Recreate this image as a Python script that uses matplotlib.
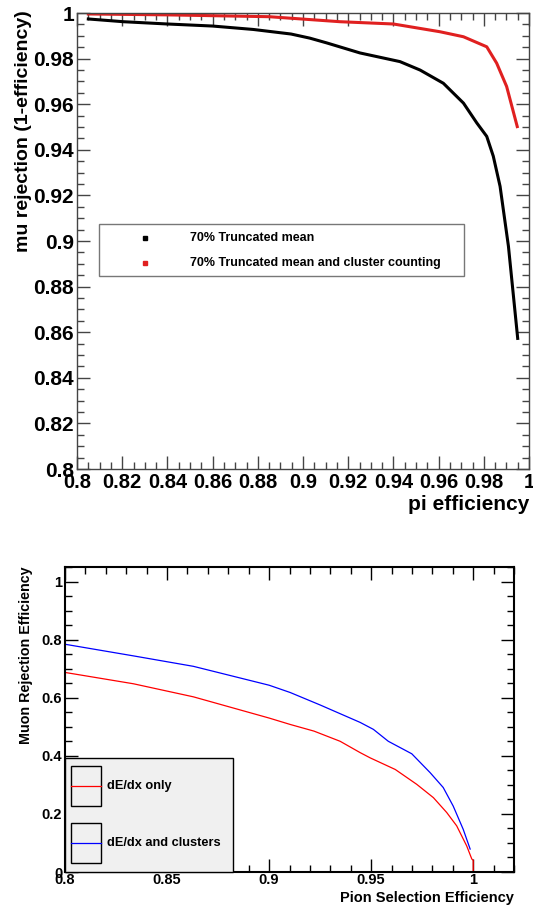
import numpy as np
import matplotlib
matplotlib.use('Agg')
import matplotlib.pyplot as plt
from matplotlib.patches import Rectangle
from matplotlib.ticker import MultipleLocator

plt.rcParams['font.family'] = ['Liberation Sans', 'DejaVu Sans']
plt.rcParams['font.weight'] = 'bold'

## top panel: mu rejection vs pi efficiency
pi_eff_tm = [0.805, 0.8205, 0.84, 0.86, 0.878, 0.8947, 0.903, 0.9105, 0.9252, 0.9429,
             0.9518, 0.9621, 0.971, 0.9769, 0.9813, 0.9842, 0.9872, 0.9909, 0.995]
mu_rej_tm = [0.9974, 0.9962, 0.9952, 0.9943, 0.9928, 0.9908, 0.9890, 0.9869, 0.9825, 0.9787,
             0.975, 0.9692, 0.9605, 0.9518, 0.9459, 0.9372, 0.924, 0.8977, 0.8573]
pi_eff_cc = [0.805, 0.84, 0.885, 0.9164, 0.94, 0.9606, 0.971, 0.9813, 0.9857,
             0.9901, 0.9948]
mu_rej_cc = [0.9996, 0.9992, 0.9984, 0.9962, 0.9952, 0.9918, 0.9896, 0.9852,
             0.978, 0.9678, 0.9502]
top_labels = ['70% Truncated mean', '70% Truncated mean and cluster counting']

## bottom panel: muon rejection vs pion selection efficiency
pion_blue = [0.80, 0.8335, 0.8629, 0.90, 0.9103, 0.925, 0.9348, 0.9446, 0.9511,
             0.9584, 0.9699, 0.9789, 0.9853, 0.9902, 0.9951, 0.9985]
muon_blue = [0.784, 0.744, 0.708, 0.643, 0.618, 0.575, 0.545, 0.515, 0.491,
             0.450, 0.407, 0.342, 0.291, 0.227, 0.147, 0.079]
pion_red = [0.80, 0.8335, 0.8629, 0.90, 0.9103, 0.922, 0.9348, 0.9446, 0.9495,
            0.9618, 0.9723, 0.9805, 0.987, 0.9919, 0.9968, 0.9993, 1.0, 1.0]
muon_red = [0.687, 0.648, 0.603, 0.530, 0.508, 0.485, 0.450, 0.411, 0.393,
            0.353, 0.302, 0.256, 0.205, 0.159, 0.090, 0.045, 0.04, 0.0]
bottom_labels = ['dE/dx only', 'dE/dx and clusters']

fig = plt.figure(figsize=(5.33, 9.06), dpi=100)

# ---------- top ----------
ax1 = fig.add_axes([0.1445, 0.4823, 0.848, 0.5033])
fc = '#444444'
ax1.plot(pi_eff_tm, mu_rej_tm, '-', color='black', lw=2.2)
ax1.plot(pi_eff_cc, mu_rej_cc, '-', color='#e02020', lw=2.2)
ax1.set_xlim(0.8, 1.0)
ax1.set_ylim(0.8, 1.0)
for s in ax1.spines.values():
    s.set_color(fc)
    s.set_linewidth(1.0)
ax1.xaxis.set_major_locator(MultipleLocator(0.02))
ax1.xaxis.set_minor_locator(MultipleLocator(0.005))
ax1.yaxis.set_major_locator(MultipleLocator(0.02))
ax1.yaxis.set_minor_locator(MultipleLocator(0.005))
ax1.tick_params(which='both', direction='in', top=True, right=True, color=fc, width=1.0)
ax1.tick_params(which='major', length=9.5)
ax1.tick_params(which='minor', length=5)
ax1.tick_params(axis='x', labelsize=14.5, pad=3)
ax1.tick_params(axis='y', labelsize=15, pad=2)
ax1.xaxis.set_major_formatter(plt.FuncFormatter(lambda v, p: '%g' % round(v, 2)))
ax1.yaxis.set_major_formatter(plt.FuncFormatter(lambda v, p: '%g' % round(v, 2)))
for t in ax1.get_xticklabels() + ax1.get_yticklabels():
    t.set_fontweight('bold')
ax1.set_xlabel('pi efficiency', fontsize=15, fontweight='bold', ha='right')
ax1.xaxis.set_label_coords(1.0, -0.058)
ax1.set_ylabel('mu rejection (1-efficiency)', fontsize=14, fontweight='bold', ha='right')
ax1.yaxis.set_label_coords(-0.1, 1.006)

# legend box (ROOT style)
ax1.add_patch(Rectangle((0.049, 0.423), 0.807, 0.114, transform=ax1.transAxes,
                        facecolor='white', edgecolor='#777777', lw=1.0, zorder=5))
ax1.plot([0.150], [0.506], 's', color='black', ms=3, transform=ax1.transAxes, zorder=6)
ax1.plot([0.150], [0.451], 's', color='#e02020', ms=3, transform=ax1.transAxes, zorder=6)
ax1.text(0.25, 0.506, top_labels[0], transform=ax1.transAxes, fontsize=9,
         fontweight='bold', va='center', zorder=6)
ax1.text(0.25, 0.451, top_labels[1], transform=ax1.transAxes, fontsize=9,
         fontweight='bold', va='center', zorder=6)

# ---------- bottom ----------
ax2 = fig.add_axes([0.122, 0.0375, 0.8424, 0.3367])
ax2.plot(pion_red, muon_red, '-', color='#ff0000', lw=0.9)
ax2.plot(pion_blue, muon_blue, '-', color='#0000ff', lw=0.9)
ax2.set_xlim(0.8, 1.02)
ax2.set_ylim(0.0, 1.05)
for s in ax2.spines.values():
    s.set_color('black')
    s.set_linewidth(1.5)
ax2.xaxis.set_major_locator(MultipleLocator(0.05))
ax2.xaxis.set_minor_locator(MultipleLocator(0.01))
ax2.yaxis.set_major_locator(MultipleLocator(0.2))
ax2.yaxis.set_minor_locator(MultipleLocator(0.05))
ax2.tick_params(which='both', direction='in', top=True, right=True, width=1.0)
ax2.tick_params(which='major', length=9.5)
ax2.tick_params(which='minor', length=5)
ax2.tick_params(axis='x', labelsize=10.5, pad=1)
ax2.tick_params(axis='y', labelsize=10.5, pad=2)
ax2.xaxis.set_major_formatter(plt.FuncFormatter(lambda v, p: '%g' % round(v, 2)))
ax2.yaxis.set_major_formatter(plt.FuncFormatter(lambda v, p: '%g' % round(v, 2)))
for t in ax2.get_xticklabels() + ax2.get_yticklabels():
    t.set_fontweight('bold')
ax2.set_xlabel('Pion Selection Efficiency', fontsize=10.5, fontweight='bold', ha='right')
ax2.xaxis.set_label_coords(1.0, -0.062)
ax2.set_ylabel('Muon Rejection Efficiency', fontsize=10.3, fontweight='bold', ha='right')
ax2.yaxis.set_label_coords(-0.071, 1.0)

ax2.add_patch(Rectangle((0.0, 0.0), 0.374, 0.375, transform=ax2.transAxes,
                        facecolor='#f0f0f0', edgecolor='black', lw=1.0, zorder=5,
                        clip_on=False))
colors = ['#ff0000', '#0000ff']
ys = [0.282, 0.095]
for c, yc, lab in zip(colors, ys, bottom_labels):
    ax2.add_patch(Rectangle((0.0134, yc - 0.067), 0.066, 0.134, transform=ax2.transAxes,
                            facecolor='none', edgecolor='black', lw=1.0, zorder=6))
    ax2.plot([0.0134, 0.0795], [yc, yc], '-', color=c, lw=0.9,
             transform=ax2.transAxes, zorder=7)
    ax2.text(0.093, yc, lab, transform=ax2.transAxes, fontsize=9.2,
             fontweight='bold', va='center', zorder=7)

plt.savefig('out.png', dpi=100)
